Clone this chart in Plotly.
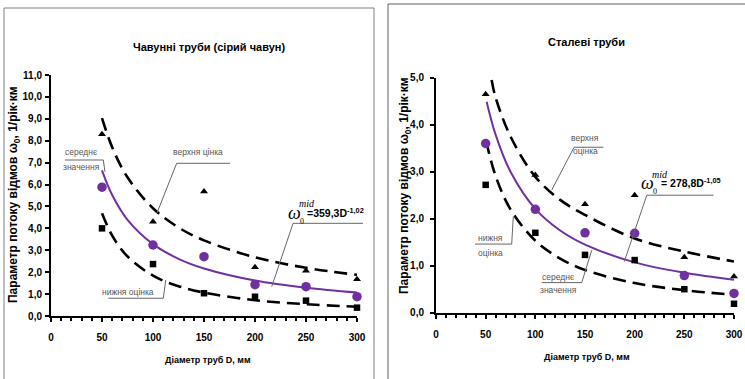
import plotly.graph_objects as go

# ---------------- data ----------------
D_pts = [50, 100, 150, 200, 250, 300]

# Cast-iron pipes (left)
ci_mid = [5.88, 3.24, 2.71, 1.43, 1.34, 0.88]
ci_up = [8.3, 4.3, 5.68, 2.22, 2.07, 1.68]
ci_low = [4.0, 2.37, 1.04, 0.88, 0.70, 0.38]
ci_curve_D = [50, 60, 75, 100, 125, 150, 200, 250, 300]
ci_curve_mid = [6.65, 5.52, 4.39, 3.28, 2.61, 2.17, 1.62, 1.29, 1.07]
ci_curve_up = [9.03, 7.70, 6.33, 4.92, 4.04, 3.45, 2.68, 2.20, 1.88]
ci_curve_low = [4.69, 3.67, 2.72, 1.84, 1.36, 1.07, 0.72, 0.54, 0.42]

# Steel pipes (right)
st_mid = [3.6, 2.2, 1.70, 1.69, 0.79, 0.41]
st_up = [4.65, 2.93, 2.31, 2.50, 1.18, 0.77]
st_low = [2.72, 1.70, 1.23, 1.12, 0.50, 0.19]
st_curve_D_mid = [51, 60, 75, 100, 125, 150, 200, 250, 300]
st_curve_mid = [4.49, 3.79, 3.00, 2.21, 1.75, 1.45, 1.07, 0.85, 0.70]
st_curve_D_up = [56, 60, 75, 100, 125, 150, 200, 250, 300]
st_curve_up = [4.95, 4.58, 3.75, 2.89, 2.40, 2.08, 1.58, 1.30, 1.09]
st_curve_D_low = [50.5, 60, 75, 100, 125, 150, 200, 250, 300]
st_curve_low = [3.65, 2.91, 2.20, 1.53, 1.15, 0.91, 0.63, 0.48, 0.38]

x_ticks = [0, 50, 100, 150, 200, 250, 300]
ci_y_ticks = [0, 1, 2, 3, 4, 5, 6, 7, 8, 9, 10, 11]
st_y_ticks = [0, 1, 2, 3, 4, 5]

title_ci = "Чавунні труби (сірий чавун)"
title_st = "Сталеві труби"
x_title = "Діаметр труб D, мм"
y_title = "Параметр потоку відмов ω<sub>0</sub>, 1/рік·км"

# ---------------- styles ----------------
W, H = 745, 379
PURPLE = "#7030A0"
SANS = "Liberation Sans, Arial, sans-serif"
SERIF = "Liberation Serif, Times New Roman, serif"
GREY = "#555555"

dom = {
    "x": [51 / W, 357 / W], "y": [1 - 316 / H, 1 - 75 / H],
    "x2": [436 / W, 734 / W], "y2": [1 - 312.7 / H, 1 - 77.7 / H],
}
rng = {"x": [0, 300], "y": [0, 11], "x2": [0, 300], "y2": [0, 5]}


def to_paper(xv, yv, xa, ya):
    px = dom[xa][0] + (xv - rng[xa][0]) / (rng[xa][1] - rng[xa][0]) * (dom[xa][1] - dom[xa][0])
    py = dom[ya][0] + (yv - rng[ya][0]) / (rng[ya][1] - rng[ya][0]) * (dom[ya][1] - dom[ya][0])
    return px, py


fig = go.Figure()

dash_line = dict(color="black", width=2.6, dash="13px,7px")


def add_panel(xa, ya, Dc_mid, mid_c, Dc_up, up_c, Dc_low, low_c, mid, up, low):
    fig.add_trace(go.Scatter(x=Dc_up, y=up_c, mode="lines", line=dash_line,
                             line_shape="spline", xaxis=xa, yaxis=ya, hoverinfo="skip"))
    fig.add_trace(go.Scatter(x=Dc_low, y=low_c, mode="lines", line=dash_line,
                             line_shape="spline", xaxis=xa, yaxis=ya, hoverinfo="skip"))
    fig.add_trace(go.Scatter(x=Dc_mid, y=mid_c, mode="lines",
                             line=dict(color=PURPLE, width=2), line_shape="spline",
                             xaxis=xa, yaxis=ya, hoverinfo="skip"))
    fig.add_trace(go.Scatter(x=D_pts, y=up, mode="markers", cliponaxis=False,
                             marker=dict(symbol="triangle-up", size=7, color="black"),
                             xaxis=xa, yaxis=ya))
    fig.add_trace(go.Scatter(x=D_pts, y=low, mode="markers", cliponaxis=False,
                             marker=dict(symbol="square", size=6.5, color="black"),
                             xaxis=xa, yaxis=ya))
    fig.add_trace(go.Scatter(x=D_pts, y=mid, mode="markers", cliponaxis=False,
                             marker=dict(symbol="circle", size=9.5, color=PURPLE),
                             xaxis=xa, yaxis=ya))


add_panel("x", "y", ci_curve_D, ci_curve_mid, ci_curve_D, ci_curve_up, ci_curve_D,
          ci_curve_low, ci_mid, ci_up, ci_low)
add_panel("x2", "y2", st_curve_D_mid, st_curve_mid, st_curve_D_up, st_curve_up,
          st_curve_D_low, st_curve_low, st_mid, st_up, st_low)

tickfont = dict(family=SANS, size=10, color="black", weight="bold")
common_x = dict(range=[0, 300], tickvals=x_ticks, ticks="outside", ticklen=4,
                tickwidth=1.5, tickcolor="black", showline=True, linecolor="black",
                linewidth=2, showgrid=False, zeroline=False, tickfont=tickfont,
                ticklabelstandoff=7, automargin=False,
                minor=dict(dtick=10, ticks="outside", ticklen=3, tickwidth=1.5,
                           tickcolor="black", showgrid=False))
common_y = dict(ticks="outside", ticklen=4, tickwidth=1.5, tickcolor="black",
                showline=True, linecolor="black", linewidth=2, showgrid=False,
                zeroline=False, tickfont=tickfont, tickformat=".1f", automargin=False)

fig.update_layout(
    width=W, height=H,
    margin=dict(l=0, r=0, t=0, b=0, pad=0, autoexpand=False),
    paper_bgcolor="white", plot_bgcolor="white", showlegend=False,
    separators=", ",
    xaxis=dict(domain=dom["x"], anchor="y", **common_x),
    yaxis=dict(domain=dom["y"], anchor="x", range=[0, 11], tickvals=ci_y_ticks,
               ticklabelstandoff=1, **common_y),
    xaxis2=dict(domain=dom["x2"], anchor="y2", **common_x),
    yaxis2=dict(domain=dom["y2"], anchor="x2", range=[0, 5], tickvals=st_y_ticks,
                ticklabelstandoff=4, **common_y),
)

ann = []


def txt(text, x, y, xref, yref, size, family=SANS, color="black", bold=False,
        xanchor="center", angle=0):
    ann.append(dict(text=text, x=x, y=y, xref=xref, yref=yref, showarrow=False,
                    xanchor=xanchor, yanchor="middle", textangle=angle,
                    font=dict(family=family, size=size, color=color,
                              weight="bold" if bold else "normal")))


# titles
txt(title_ci, 209 / W, 1 - 46.7 / H, "paper", "paper", 11, bold=True)
txt(title_st, 586.7 / W, 1 - 41.7 / H, "paper", "paper", 11, bold=True)
txt(x_title, 208 / W, 1 - 360 / H, "paper", "paper", 9, bold=True)
txt(x_title, 586.7 / W, 1 - 356.7 / H, "paper", "paper", 9, bold=True)
txt(y_title, 14 / W, 1 - 195 / H, "paper", "paper", 12, bold=True, angle=-90)
txt(y_title, 405 / W, 1 - 186 / H, "paper", "paper", 12, bold=True, angle=-90)

# callout labels (left panel)
CS = 8.5
txt("середнє", 30.1, 7.50, "x", "y", CS, color=GREY)
txt("значення", 30.1, 6.82, "x", "y", CS, color=GREY)
txt("верхня цінка", 144.4, 7.50, "x", "y", CS, color=GREY)
txt("нижня оцінка", 75.8, 1.11, "x", "y", CS, color=GREY)
# callout labels (right panel)
txt("верхня", 150.1, 3.71, "x2", "y2", CS, color=GREY)
txt("оцінка", 150.1, 3.43, "x2", "y2", CS, color=GREY)
txt("нижня", 54.4, 1.58, "x2", "y2", CS, color=GREY)
txt("оцінка", 54.4, 1.28, "x2", "y2", CS, color=GREY)
txt("середнє", 123.2, 0.77, "x2", "y2", CS, color=GREY)
txt("значення", 123.2, 0.48, "x2", "y2", CS, color=GREY)

# formulas
txt("<i>ω</i>", 238.7, 4.70, "x", "y", 18, family=SERIF)
txt("<i>mid</i>", 251.0, 5.12, "x", "y", 10, family=SERIF)
txt("0", 246.1, 4.30, "x", "y", 8, family=SERIF)
txt("=359,3D<sup>-1,02</sup>", 249.5, 4.72, "x", "y", 10.5, bold=True, xanchor="left")

txt("<i>ω</i>", 213.0, 2.77, "x2", "y2", 18, family=SERIF)
txt("<i>mid</i>", 225.0, 2.95, "x2", "y2", 10, family=SERIF)
txt("0", 220.0, 2.58, "x2", "y2", 8, family=SERIF)
txt("= 278,8D<sup>-1,05</sup>", 224.0, 2.77, "x2", "y2", 10.5, bold=True, xanchor="left")

fig.update_layout(annotations=ann)

# callout leader lines: (x0, y0, x1, y1) in data units per panel
callouts_ci = [
    (13.7, 7.12, 51.3, 7.12), (51.3, 7.12, 52.9, 6.58),
    (123.2, 6.97, 175.5, 6.97), (123.2, 6.97, 103.9, 4.70),
    (56.2, 0.81, 110.1, 0.81), (110.1, 0.81, 112.5, 1.64),
    (237.3, 4.23, 305.9, 4.23), (237.3, 4.23, 216.4, 1.34),
]
callouts_st = [
    (139.0, 3.52, 168.5, 3.52), (139.0, 3.52, 116.5, 2.61),
    (212.2, 2.50, 279.3, 2.50), (212.2, 2.50, 189.6, 1.09),
    (39.3, 1.46, 76.2, 1.46), (76.2, 1.46, 77.8, 2.04),
    (106.4, 0.64, 146.7, 0.64), (146.7, 0.64, 156.8, 1.33),
]
shapes = []
for seg_list, xa, ya in [(callouts_ci, "x", "y"), (callouts_st, "x2", "y2")]:
    for (a, b, c, d) in seg_list:
        p0 = to_paper(a, b, xa, ya)
        p1 = to_paper(c, d, xa, ya)
        shapes.append(dict(type="line", xref="paper", yref="paper",
                           x0=p0[0], y0=p0[1], x1=p1[0], y1=p1[1],
                           line=dict(color="#666666", width=1)))

# panel frames
shapes.append(dict(type="rect", xref="paper", yref="paper", x0=4 / W, x1=374 / W,
                   y0=-0.05, y1=1 - 8 / H, line=dict(color="#808080", width=1)))
shapes.append(dict(type="rect", xref="paper", yref="paper", x0=388 / W, x1=1.05,
                   y0=-0.05, y1=1 - 4 / H, line=dict(color="#606060", width=1)))
fig.update_layout(shapes=shapes)

fig.write_html("out.html", config={"displayModeBar": False},
               post_script="document.body.style.margin='0';document.body.style.overflow='hidden';")
